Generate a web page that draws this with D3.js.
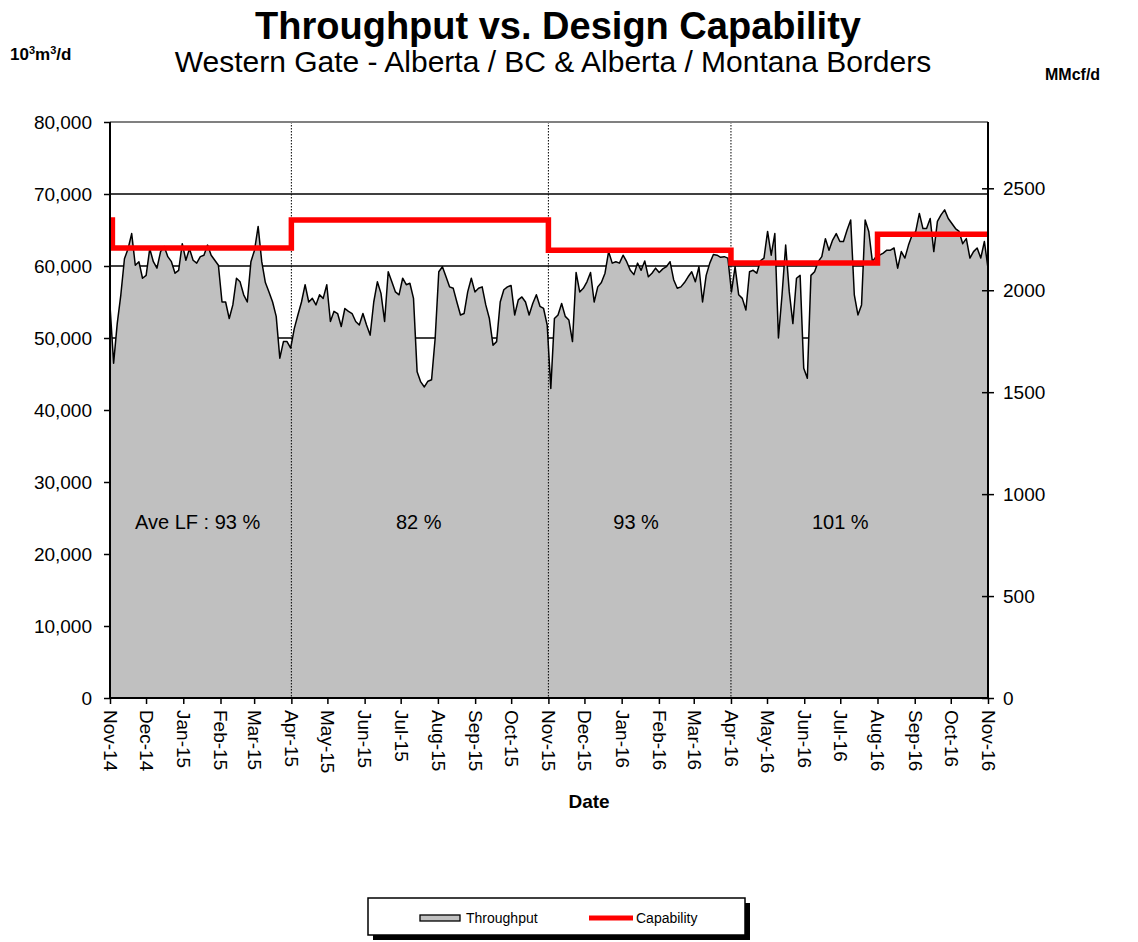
<!DOCTYPE html>
<html lang="en">
<head>
<meta charset="UTF-8">
<title>Throughput vs. Design Capability</title>
<script src="https://d3js.org/d3.v7.min.js"></script>
<style>
    body { margin: 0; background: #fff; }
    svg text { font-family: "Liberation Sans", Arial, sans-serif; fill: #000; }
    .axis path.domain { display: none; }
    .axis line { stroke: #000; stroke-width: 1.5px; }
    .axis text { font-size: 19px; }
    .axis--x text { font-size: 19px; }
</style>
</head>
<body>
<svg width="1138" height="942"></svg>
<script>
    // Chart values
    const startDate = new Date(2014, 10, 1);
    const endDate = new Date(2016, 10, 1);

    // throughput, 10^3 m3/d, sampled every ~3 days from Nov-14 to Nov-16
    const throughput = [
        54500, 46500, 52000, 56000, 61000, 62400, 64500, 60100, 60600, 58300,
        58700, 62400, 60600, 59700, 62000, 62700, 61300, 60600, 59000, 59400,
        63100, 60800, 62400, 60800, 60400, 61300, 61500, 62900, 61500, 60800,
        60100, 55000, 55000, 52700, 54600, 58300, 57800, 56000, 55000, 60600,
        62200, 65500, 60600, 57700, 56400, 55000, 53000, 47200, 49500, 49500,
        48600, 51300, 53200, 55000, 57400, 55000, 55500, 54600, 56000, 55500,
        57400, 52300,
        53700, 53400, 51600, 54100, 53700, 53400, 52300, 51800, 53400, 51800,
        50400, 55000, 57800, 56200, 52300, 59200, 57800, 56400, 56000, 58300,
        57400, 57600, 55500, 45300, 43900, 43200, 44000, 44200, 50000, 59200,
        59900, 58500, 57100, 56900, 55000, 53200, 53400, 56400, 58300, 56400,
        56900, 57100, 54600, 52700, 49000, 49500, 55000, 56700, 57100, 57300,
        53200, 55300, 55700, 55000, 53200, 54800, 56000, 54400, 54100, 51800,
        43000, 52700, 53200, 54800, 53000, 52500, 49500, 59100, 56400, 56900,
        57800, 59100, 55000, 57100, 57700, 59000, 62000, 60400, 60600, 60400,
        61500, 60600, 59400, 58800, 60400, 59400, 60700, 58500, 59000, 59700,
        59100, 59600, 59900, 60600, 58100, 56900, 57100, 57700, 58500, 59200,
        57800, 59900, 55000, 58700, 60400, 61600, 61500, 61200, 61300, 61100,
        56400, 59900, 56000, 55500, 53900, 59200, 59400, 59000, 60700, 61100,
        64800, 61500,
        64500, 50000, 56000, 62900, 56400, 52000, 58300, 58700, 45800, 44400,
        58700, 59200, 60600, 61300, 63800, 62200, 63600, 64500, 63400, 63400,
        65000, 66400, 56000, 53200, 54600, 66400, 64800, 60600, 61300, 61500,
        61800, 62200, 62200, 62500, 59700, 62000, 61100, 62900, 64300, 64800,
        67300, 65200, 65200, 66600, 62000, 66200, 67100, 67800, 66600, 65900,
        65200, 64800, 63100, 63800, 61100, 62000, 62500, 61100, 63400, 59700
    ];

    // design capability steps, 10^3 m3/d
    const capabilityDates = ["2014-11-01", "2014-11-03", "2015-04-01", "2015-11-01", "2016-04-01", "2016-08-01", "2016-11-01"];
    const capabilityValues = [66400, 62500, 66400, 62200, 60400, 64400, 64400];

    // season boundaries and average load factors
    const seasonDates = ["2015-04-01", "2015-11-01", "2016-04-01"];
    const loadFactorLabels = ["Ave LF : 93 %", "82 %", "93 %", "101 %"];
    const loadFactorDates = ["2015-01-13", "2015-07-16", "2016-01-13", "2016-07-01"];

    const leftTicks = [0, 10000, 20000, 30000, 40000, 50000, 60000, 70000, 80000];
    const rightTicks = [0, 500, 1000, 1500, 2000, 2500];
    const m3PerMcf = 28.3168; // 10^3 m3 per MMcf

    const parse = d3.timeParse("%Y-%m-%d");
    const svg = d3.select("svg");
    const plot = { left: 110, right: 988, top: 122, bottom: 698 };

    const x = d3.scaleTime().domain([startDate, endDate]).range([plot.left, plot.right]);
    const y = d3.scaleLinear().domain([0, 80000]).range([plot.bottom, plot.top]);
    const yRight = d3.scaleLinear().domain([0, 80000 / m3PerMcf]).range([plot.bottom, plot.top]);
    // sample index -> date, spread evenly across the two years
    const dateAt = d3.scaleLinear().domain([0, throughput.length - 1]).range([+startDate, +endDate]);

    const tp = throughput.map((v, i) => ({ date: new Date(dateAt(i)), value: v }));
    const cap = capabilityDates.map((d, i) => ({ date: parse(d), value: capabilityValues[i] }));

    // horizontal gridlines (behind the area)
    svg.append("g")
        .selectAll("line")
        .data(leftTicks.filter(t => t > 0 && t < 80000))
        .join("line")
        .attr("x1", plot.left).attr("x2", plot.right)
        .attr("y1", d => y(d)).attr("y2", d => y(d))
        .attr("stroke", "#000").attr("stroke-width", 1.3);

    // throughput area + line
    svg.append("path")
        .datum(tp)
        .attr("fill", "#c0c0c0")
        .attr("d", d3.area().x(d => x(d.date)).y0(y(0)).y1(d => y(d.value)));

    svg.append("path")
        .datum(tp)
        .attr("fill", "none")
        .attr("stroke", "#000")
        .attr("stroke-width", 1.5)
        .attr("stroke-linejoin", "round")
        .attr("d", d3.line().x(d => x(d.date)).y(d => y(d.value)));

    // dotted season separators
    svg.append("g")
        .selectAll("line")
        .data(seasonDates.map(parse))
        .join("line")
        .attr("x1", d => x(d)).attr("x2", d => x(d))
        .attr("y1", plot.top).attr("y2", plot.bottom)
        .attr("stroke", "#000").attr("stroke-width", 1)
        .attr("stroke-dasharray", "1.5,1.5");

    // capability step line
    svg.append("path")
        .datum(cap)
        .attr("fill", "none")
        .attr("stroke", "#ff0000")
        .attr("stroke-width", 5.5)
        .attr("d", d3.line().curve(d3.curveStepAfter).x(d => x(d.date)).y(d => y(d.value)));

    // frame
    svg.append("line")
        .attr("x1", plot.left).attr("x2", plot.right)
        .attr("y1", plot.top).attr("y2", plot.top)
        .attr("stroke", "#808080").attr("stroke-width", 2);
    svg.append("line")
        .attr("x1", plot.left).attr("x2", plot.left)
        .attr("y1", plot.top).attr("y2", plot.bottom)
        .attr("stroke", "#000").attr("stroke-width", 2);
    svg.append("line")
        .attr("x1", plot.right).attr("x2", plot.right)
        .attr("y1", plot.top).attr("y2", plot.bottom)
        .attr("stroke", "#000").attr("stroke-width", 2);
    svg.append("line")
        .attr("x1", plot.left).attr("x2", plot.right)
        .attr("y1", plot.bottom).attr("y2", plot.bottom)
        .attr("stroke", "#000").attr("stroke-width", 2);

    // axes
    svg.append("g")
        .attr("class", "axis axis--y")
        .attr("transform", `translate(${plot.left},0)`)
        .call(d3.axisLeft(y).tickValues(leftTicks).tickFormat(d3.format(",")).tickSize(6).tickPadding(12));

    const right = svg.append("g")
        .attr("class", "axis axis--y2")
        .attr("transform", `translate(${plot.right},0)`)
        .call(d3.axisRight(yRight).tickValues(rightTicks).tickFormat(d3.format("d")).tickSize(6).tickPadding(9));
    right.selectAll(".tick line").attr("x1", -6);

    const xAxis = svg.append("g")
        .attr("class", "axis axis--x")
        .attr("transform", `translate(0,${plot.bottom})`)
        .call(d3.axisBottom(x).ticks(d3.timeMonth.every(1)).tickFormat(d3.timeFormat("%b-%y")).tickSize(6));
    xAxis.selectAll(".tick text")
        .attr("transform", "rotate(90)")
        .attr("x", 12).attr("y", 0).attr("dy", "0.35em")
        .attr("text-anchor", "start");

    // load factor annotations
    svg.append("g")
        .selectAll("text")
        .data(loadFactorLabels)
        .join("text")
        .attr("x", (d, i) => x(parse(loadFactorDates[i])))
        .attr("y", 529)
        .attr("text-anchor", "middle")
        .style("font-size", "20px")
        .text(d => d);

    // titles
    svg.append("text")
        .attr("x", 558).attr("y", 39)
        .attr("text-anchor", "middle")
        .style("font-size", "38px").style("font-weight", "bold")
        .text("Throughput vs. Design Capability");
    svg.append("text")
        .attr("x", 553).attr("y", 72)
        .attr("text-anchor", "middle")
        .style("font-size", "30px")
        .text("Western Gate - Alberta / BC & Alberta / Montana Borders");

    const unitLeft = svg.append("text")
        .attr("x", 10).attr("y", 60)
        .style("font-size", "17px").style("font-weight", "bold");
    unitLeft.append("tspan").text("10");
    unitLeft.append("tspan").attr("dy", -6).style("font-size", "11px").text("3");
    unitLeft.append("tspan").attr("dy", 6).text("m");
    unitLeft.append("tspan").attr("dy", -6).style("font-size", "11px").text("3");
    unitLeft.append("tspan").attr("dy", 6).text("/d");

    svg.append("text")
        .attr("x", 1045).attr("y", 80)
        .style("font-size", "16px").style("font-weight", "bold")
        .text("MMcf/d");
    svg.append("text")
        .attr("x", 589).attr("y", 808)
        .attr("text-anchor", "middle")
        .style("font-size", "19px").style("font-weight", "bold")
        .text("Date");

    // legend
    const legend = svg.append("g").attr("transform", "translate(368,898)");
    legend.append("rect").attr("x", 5).attr("y", 5).attr("width", 377).attr("height", 37).attr("fill", "#000");
    legend.append("rect").attr("width", 377).attr("height", 37).attr("fill", "#fff").attr("stroke", "#000").attr("stroke-width", 1.5);
    legend.append("rect").attr("x", 52).attr("y", 17).attr("width", 40).attr("height", 6)
        .attr("fill", "#c0c0c0").attr("stroke", "#000").attr("stroke-width", 1.3);
    legend.append("text").attr("x", 98).attr("y", 25).style("font-size", "14px").text("Throughput");
    legend.append("line").attr("x1", 221).attr("x2", 265).attr("y1", 20).attr("y2", 20)
        .attr("stroke", "#ff0000").attr("stroke-width", 5);
    legend.append("text").attr("x", 268).attr("y", 25).style("font-size", "14px").text("Capability");
</script>
</body>
</html>
